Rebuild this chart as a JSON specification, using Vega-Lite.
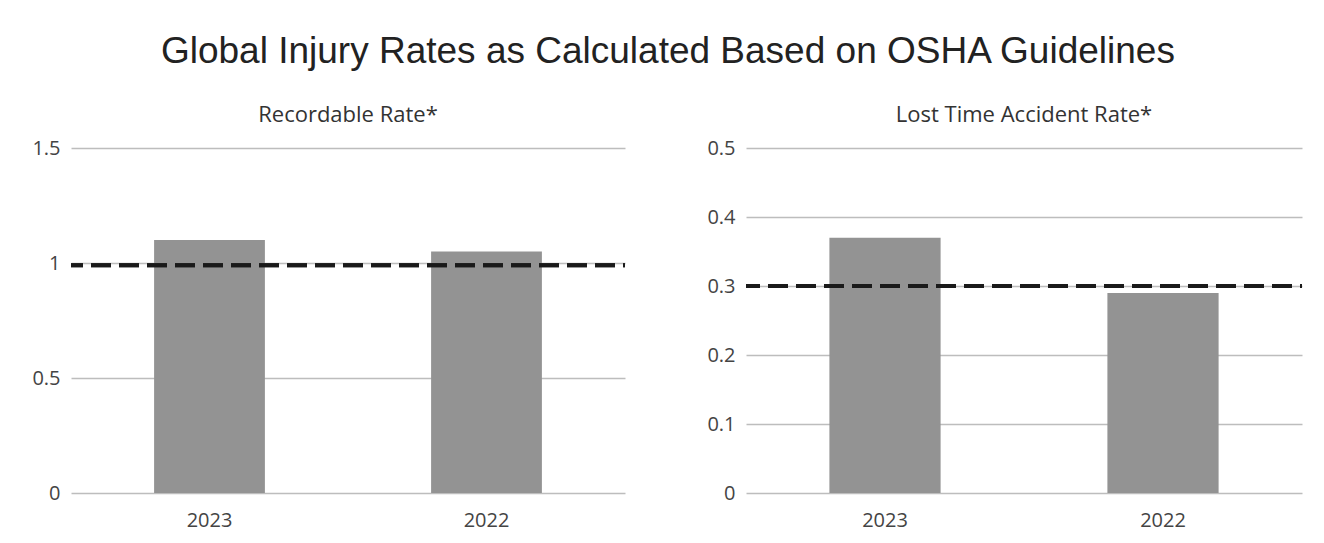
{
  "$schema": "https://vega.github.io/schema/vega-lite/v6.json",
  "background": "white",
  "padding": {"left": 31, "top": 33, "right": 20, "bottom": 5},
  "title": {
    "text": "Global Injury Rates as Calculated Based on OSHA Guidelines",
    "font": "Liberation Sans",
    "fontSize": 37,
    "fontWeight": "normal",
    "color": "#222222",
    "anchor": "middle",
    "offset": 33
  },
  "datasets": {
    "recordable": [
      {"year": "2023", "rate": 1.10},
      {"year": "2022", "rate": 1.05}
    ],
    "lost": [
      {"year": "2023", "rate": 0.37},
      {"year": "2022", "rate": 0.29}
    ]
  },
  "hconcat": [
    {
      "width": 554,
      "height": 345,
      "title": {"text": "Recordable Rate*"},
      "data": {"name": "recordable"},
      "layer": [
        {
          "mark": {"type": "bar", "color": "#939393"},
          "encoding": {
            "x": {"field": "year", "type": "nominal", "sort": null, "title": null,
                  "scale": {"paddingInner": 0.6, "paddingOuter": 0.3}},
            "y": {"field": "rate", "type": "quantitative", "title": null,
                  "scale": {"domain": [0, 1.5], "nice": false},
                  "axis": {"values": [0, 0.5, 1, 1.5], "format": "~g"}}
          }
        },
        {
          "mark": {"type": "rule", "color": "#1a1a1a", "strokeWidth": 4, "strokeDash": [20, 8], "strokeDashOffset": 18},
          "encoding": {"y": {"datum": 0.99, "type": "quantitative"}}
        }
      ]
    },
    {
      "width": 556,
      "height": 345,
      "title": {"text": "Lost Time Accident Rate*"},
      "data": {"name": "lost"},
      "layer": [
        {
          "mark": {"type": "bar", "color": "#939393"},
          "encoding": {
            "x": {"field": "year", "type": "nominal", "sort": null, "title": null,
                  "scale": {"paddingInner": 0.6, "paddingOuter": 0.3}},
            "y": {"field": "rate", "type": "quantitative", "title": null,
                  "scale": {"domain": [0, 0.5], "nice": false},
                  "axis": {"values": [0, 0.1, 0.2, 0.3, 0.4, 0.5], "format": "~g"}}
          }
        },
        {
          "mark": {"type": "rule", "color": "#1a1a1a", "strokeWidth": 4, "strokeDash": [20, 8], "strokeDashOffset": 18},
          "encoding": {"y": {"datum": 0.3, "type": "quantitative"}}
        }
      ]
    }
  ],
  "spacing": 79,
  "config": {
    "view": {"stroke": null},
    "title": {
      "font": "Open Sans",
      "fontSize": 22,
      "fontWeight": "normal",
      "color": "#333333",
      "offset": 11
    },
    "axis": {
      "labelFont": "Open Sans",
      "labelFontSize": 20,
      "labelColor": "#444444",
      "ticks": false,
      "domain": false,
      "gridColor": "#bdbdbd",
      "gridWidth": 1.3
    },
    "axisY": {"labelPadding": 11, "grid": true},
    "axisX": {"labelPadding": 17, "grid": false, "labelAngle": 0}
  }
}
